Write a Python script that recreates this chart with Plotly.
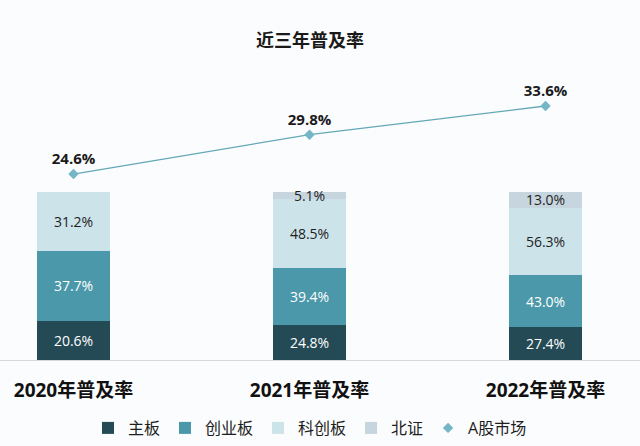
import plotly.graph_objects as go

categories = ["2020年普及率", "2021年普及率", "2022年普及率"]
main_board = [20.6, 24.8, 27.4]
chinext = [37.7, 39.4, 43.0]
star = [31.2, 48.5, 56.3]
bse = [None, 5.1, 13.0]
a_share = [24.6, 29.8, 33.6]

series = [
    ("主板", main_board, "#244a55", "#ffffff"),
    ("创业板", chinext, "#4a98a9", "#ffffff"),
    ("科创板", star, "#cde3ea", "#1e1e1e"),
    ("北证", bse, "#c6d5de", "#1e1e1e"),
]

FONT = "Open Sans, Noto Sans CJK SC, sans-serif"

fig = go.Figure()
for name, vals, color, tcolor in series:
    fig.add_trace(go.Bar(
        x=categories, y=vals, name=name,
        marker=dict(color=color, line=dict(width=0)),
        text=[("%.1f%%" % v) if v is not None else "" for v in vals],
        textposition="inside", insidetextanchor="middle", textangle=0,
        textfont=dict(size=14, color=tcolor, family=FONT),
        width=0.309, cliponaxis=False,
    ))

fig.add_trace(go.Scatter(
    x=categories, y=a_share, name="A股市场", yaxis="y2",
    mode="lines+markers+text",
    line=dict(color="#63a8b8", width=1.3),
    marker=dict(symbol="diamond", size=8, color="#74b5c6"),
    text=["<b>%.1f%%</b>" % v for v in a_share],
    textposition="top center",
    textfont=dict(size=15, color="#1a1a1a", family=FONT),
    showlegend=False, cliponaxis=False,
))
fig.add_trace(go.Scatter(
    x=[None], y=[None], name="A股市场", mode="markers",
    marker=dict(symbol="diamond", size=8, color="#74b5c6"),
))

fig.update_layout(
    width=640, height=446,
    margin=dict(l=0, r=0, t=60, b=86),
    paper_bgcolor="#fbfcfd", plot_bgcolor="#fbfcfd",
    barmode="stack", barnorm="percent",
    uniformtext=dict(minsize=14, mode="show"),
    font=dict(family=FONT, color="#1e1e1e"),
    title=dict(text="<b>近三年普及率</b>", x=310/640, xanchor="center",
               y=1 - 41/446, yanchor="middle",
               font=dict(size=18, color="#1a1a1a", family=FONT)),
    xaxis=dict(range=[-73.5/236, (640-73.5)/236], showline=True,
               linecolor="#d9d9d9", linewidth=1, showgrid=False,
               ticks="", ticklabelstandoff=13,
               tickfont=dict(size=19, color="#111111", family=FONT),
               tickprefix="<b>", ticksuffix="</b>"),
    yaxis=dict(range=[0, 300/1.68], visible=False, showgrid=False),
    yaxis2=dict(range=[0, 300/7.56], overlaying="y", side="right",
                visible=False, showgrid=False),
    legend=dict(orientation="h", x=310/640, xanchor="center",
                y=-(428-360)/300, yanchor="middle",
                font=dict(size=16, color="#1e1e1e", family=FONT),
                itemwidth=30, bgcolor="rgba(0,0,0,0)", traceorder="normal"),
    showlegend=True,
)

fig.write_html("out.html", config={"displayModeBar": False},
               post_script="document.body.style.margin='0';document.body.style.background='#fbfcfd';")
